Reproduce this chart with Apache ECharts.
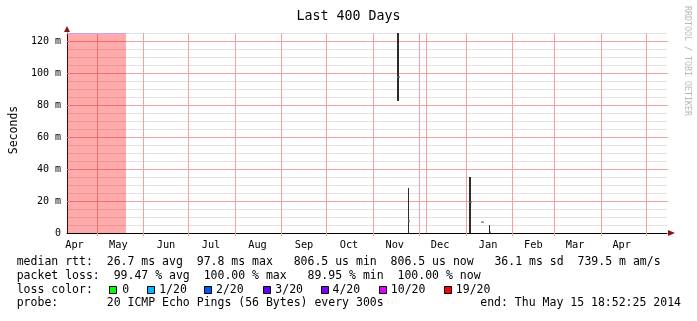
<!DOCTYPE html>
<html>
<head>
<meta charset="utf-8">
<script src="https://cdn.jsdelivr.net/npm/echarts@6/dist/echarts.min.js"></script>
<style>
html,body{margin:0;padding:0;background:#fff;}
#chart{width:697px;height:321px;}
</style>
</head>
<body>
<div id="chart"></div>
<script>
// ---- data (x in days since start of the 400-day window, y in milliseconds) ----
const titleText = 'Last 400 Days';
const yAxisName = 'Seconds';
const monthStarts = [20.33, 51.0, 81.0, 112.33, 143.0, 173.0, 204.33, 235.0, 266.33, 297.0, 325.0, 356.33, 386.33];
const monthLabelPos = [5.0, 34.2, 66.0, 96.0, 127.0, 158.0, 188.0, 218.5, 248.7, 280.7, 310.9, 338.7, 369.8];
const monthLabels = ['Apr', 'May', 'Jun', 'Jul', 'Aug', 'Sep', 'Oct', 'Nov', 'Dec', 'Jan', 'Feb', 'Mar', 'Apr'];
const extraRules = [239.67];
const yMajorTicks = [0, 20, 40, 60, 80, 100, 120];
// unknown / lost period
const lossStart = [0];
const lossEnd = [39.3];
// smoke (ping spread)
const smokeStart = [220.0, 227.3, 268.0, 281.3];
const smokeEnd = [221.3, 228.0, 269.3, 282.0];
const smokeLow = [82.7, 0, 0, 0];
const smokeHigh = [125, 28, 35.2, 5];
// median rtt
const medStart = [220.0, 227.3, 268.0, 276.2, 282.0];
const medEnd = [222.0, 228.7, 269.8, 278.0, 282.7];
const medValue = [97.8, 7.7, 19.6, 6.9, 0.8];
// legend texts
const legendLine1 = 'median rtt:  26.7 ms avg  97.8 ms max   806.5 us min  806.5 us now   36.1 ms sd  739.5 m am/s';
const legendLine2 = 'packet loss:  99.47 % avg  100.00 % max   89.95 % min  100.00 % now';
const lossLabel = 'loss color:';
const lossNames = ['0', '1/20', '2/20', '3/20', '4/20', '10/20', '19/20'];
const lossColors = ['#00ff00', '#00b8ff', '#0059ff', '#5e00ff', '#7e00ff', '#dd00ff', '#ff0000'];
const probeLine = 'probe:       20 ICMP Echo Pings (56 Bytes) every 300s';
const endLine = 'end: Thu May 15 18:52:25 2014';
const credit = 'RRDTOOL / TOBI OETIKER';

// ---- layout / style ----
const MONO = 'DejaVu Sans Mono';
const G = {left: 67, top: 33, width: 600, height: 200};
const RED_GRID = '#f2a0a0';
const GREY_GRID = '#e2e2e2';

const chart = echarts.init(document.getElementById('chart'), null, {renderer: 'canvas'});

function rectItem(params, api, fill) {
  const a = api.coord([api.value(0), api.value(3)]);
  const b = api.coord([api.value(1), api.value(2)]);
  const x0 = Math.round(a[0]), x1 = Math.round(b[0]);
  const y0 = Math.round(a[1]), y1 = Math.round(b[1]);
  return {type: 'rect', shape: {x: x0, y: y0, width: Math.max(1, x1 - x0), height: Math.max(1, y1 - y0)}, style: {fill: fill}};
}

const lossData = lossStart.map((s, i) => [s, lossEnd[i], 0, 125]);
const smokeData = smokeStart.map((s, i) => [s, smokeEnd[i], smokeLow[i], smokeHigh[i]]);
const medData = medStart.map((s, i) => [s, medEnd[i], medValue[i]]);
const vGridData = monthStarts.concat(extraRules).map(v => [v, 0]);
const hGridData = yMajorTicks.filter(v => v > 0).map(v => [0, v]);

// legend graphics
const graphics = [];
const lx = 16.7, fs = 11.5;
const rows = [262.5, 276, 290, 303.5];
const fnt = fs + 'px "' + MONO + '"';
graphics.push({type: 'text', x: lx, y: rows[0], style: {text: legendLine1, font: fnt, fill: '#000', textVerticalAlign: 'middle'}});
graphics.push({type: 'text', x: lx, y: rows[1], style: {text: legendLine2, font: fnt, fill: '#000', textVerticalAlign: 'middle'}});
graphics.push({type: 'text', x: lx, y: rows[2], style: {text: lossLabel, font: fnt, fill: '#000', textVerticalAlign: 'middle'}});
const boxX = [109, 146.5, 204, 262.5, 320.5, 378.5, 443.5];
const nameX = [122.3, 159.2, 216, 275.3, 332.5, 390.8, 455.8];
lossNames.forEach((n, i) => {
  graphics.push({type: 'rect', shape: {x: Math.round(boxX[i]) + 0.5, y: 286.5, width: 7, height: 7}, style: {fill: lossColors[i], stroke: '#000', lineWidth: 1}});
  graphics.push({type: 'text', x: nameX[i], y: rows[2], style: {text: n, font: fnt, fill: '#000', textVerticalAlign: 'middle'}});
});
graphics.push({type: 'text', x: lx, y: rows[3], style: {text: probeLine, font: fnt, fill: '#000', textVerticalAlign: 'middle'}});
graphics.push({type: 'text', x: 681, y: rows[3], style: {text: endLine, font: fnt, fill: '#000', textAlign: 'right', textVerticalAlign: 'middle'}});
graphics.push({type: 'text', x: 687.5, y: 6, rotation: -Math.PI / 2, style: {text: credit, font: '8.3px "' + MONO + '"', fill: '#b8b8b8', textAlign: 'left', textVerticalAlign: 'middle'}});
graphics.push({type: 'text', x: 14.5, y: 130, rotation: Math.PI / 2, style: {text: yAxisName, font: fnt, fill: '#000', textAlign: 'center', textVerticalAlign: 'middle'}});
// axis arrows
graphics.push({type: 'polygon', shape: {points: [[64, 32], [70, 32], [67, 26]]}, style: {fill: '#8b1414'}, z: 10});
graphics.push({type: 'polygon', shape: {points: [[668, 230], [668, 236], [675, 233]]}, style: {fill: '#8b1414'}, z: 10});

const option = {
  animation: false,
  backgroundColor: '#ffffff',
  title: {
    text: titleText, left: 'center', top: 10, padding: 0,
    textStyle: {fontFamily: MONO, fontSize: 13.3, fontWeight: 'normal', color: '#000'}
  },
  grid: {left: G.left, top: G.top, width: G.width, height: G.height, containLabel: false},
  xAxis: {
    type: 'value', min: 0, max: 400,
    axisLine: {show: true, lineStyle: {color: '#000', width: 1}},
    axisTick: {show: true, customValues: monthStarts, length: 3, lineStyle: {color: RED_GRID}},
    splitLine: {show: false},
    axisLabel: {
      customValues: monthLabelPos, margin: 7,
      fontFamily: MONO, fontSize: 10.3, color: '#000',
      formatter: function (v) {
        for (let i = 0; i < monthLabelPos.length; i++) if (Math.abs(monthLabelPos[i] - v) < 0.01) return monthLabels[i];
        return '';
      }
    }
  },
  yAxis: {
    type: 'value', min: 0, max: 125, interval: 5,
    axisLine: {show: true, lineStyle: {color: '#000', width: 1}},
    axisTick: {show: false},
    splitLine: {show: true, lineStyle: {color: ['rgba(0,0,0,0)', GREY_GRID, GREY_GRID, GREY_GRID], width: 1}},
    axisLabel: {
      margin: 6, fontFamily: MONO, fontSize: 10, color: '#000',
      formatter: function (v) {
        if (yMajorTicks.indexOf(v) < 0) return '';
        return v === 0 ? '0' : v + ' m';
      }
    }
  },
  graphic: graphics,
  series: [
    {
      type: 'custom', name: 'vgrid', z: 1, silent: true, clip: false,
      data: vGridData,
      renderItem: function (params, api) {
        const p = api.coord([api.value(0), 0]);
        const cs = params.coordSys;
        const x = Math.floor(p[0] + 0.01) + 0.5;
        return {type: 'line', shape: {x1: x, y1: cs.y, x2: x, y2: cs.y + cs.height}, style: {stroke: RED_GRID, lineWidth: 1}};
      }
    },
    {
      type: 'custom', name: 'hgrid', z: 1, silent: true, clip: false,
      data: hGridData,
      renderItem: function (params, api) {
        const p = api.coord([0, api.value(1)]);
        const cs = params.coordSys;
        const y = Math.floor(p[1] + 0.01) + 0.5;
        return {type: 'line', shape: {x1: cs.x, y1: y, x2: cs.x + cs.width + 1, y2: y}, style: {stroke: RED_GRID, lineWidth: 1}};
      }
    },
    {
      type: 'custom', name: 'loss', z: 3, silent: true,
      data: lossData,
      renderItem: function (params, api) {
        const r = rectItem(params, api, 'rgba(255,0,0,0.33)');
        return {type: 'group', children: [r, {type: 'line', shape: {x1: r.shape.x, y1: r.shape.y + 0.5, x2: r.shape.x + r.shape.width, y2: r.shape.y + 0.5}, style: {stroke: '#c9a6ec', lineWidth: 1}}]};
      }
    },
    {
      type: 'custom', name: 'smoke', z: 4, silent: true,
      data: smokeData,
      renderItem: function (params, api) { return rectItem(params, api, '#2c2c2c'); }
    },
    {
      type: 'custom', name: 'median', z: 5, silent: true,
      data: medData,
      renderItem: function (params, api) {
        const a = api.coord([api.value(0), api.value(2)]);
        const b = api.coord([api.value(1), api.value(2)]);
        const x0 = Math.round(a[0]), x1 = Math.round(b[0]);
        return {type: 'rect', shape: {x: x0, y: Math.round(a[1]) - 0.5, width: Math.max(1, x1 - x0), height: 1.2}, style: {fill: '#6a6a6a'}};
      }
    }
  ]
};
chart.setOption(option);
</script>
</body>
</html>
